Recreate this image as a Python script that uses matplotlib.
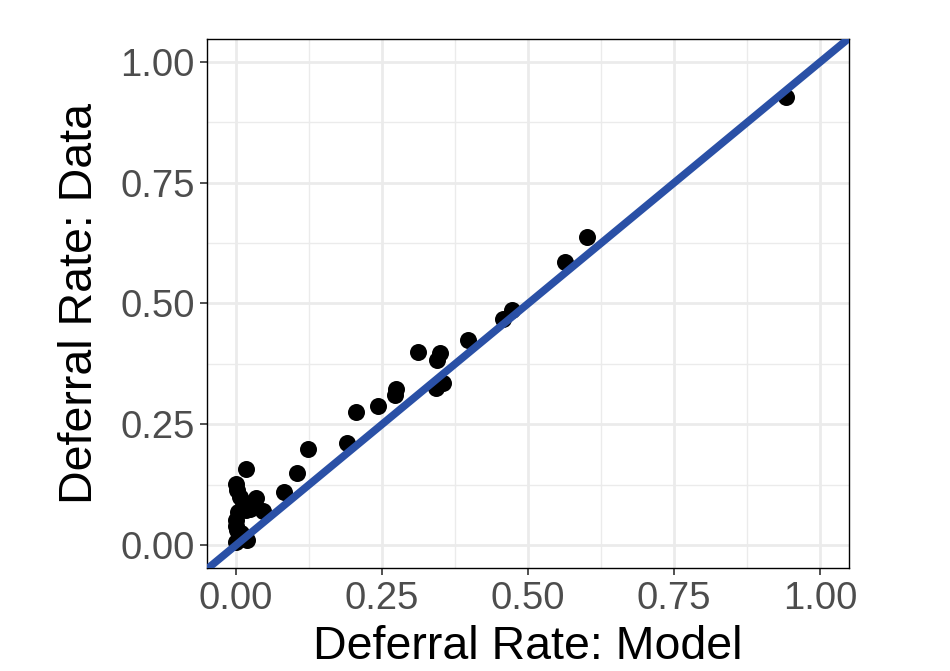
import numpy as np
import matplotlib
matplotlib.use("Agg")
import matplotlib.pyplot as plt
from matplotlib.ticker import MultipleLocator

plt.rcParams['font.family'] = ['Liberation Sans', 'DejaVu Sans']

# deferral rates per group: model prediction vs. observed
model = [0.942, 0.601, 0.563, 0.473, 0.457, 0.397, 0.349, 0.312, 0.344, 0.354,
         0.342, 0.274, 0.272, 0.243, 0.205, 0.190, 0.123, 0.104, 0.082, 0.046,
         0.034, 0.017, 0.000, 0.002, 0.007, 0.012, 0.004, 0.000, 0.017, 0.000,
         0.002, 0.014, 0.019, 0.024, 0.008, 0.000]
data = [0.928, 0.638, 0.586, 0.487, 0.468, 0.424, 0.398, 0.400, 0.383, 0.335,
        0.325, 0.323, 0.311, 0.288, 0.275, 0.211, 0.199, 0.149, 0.110, 0.070,
        0.097, 0.157, 0.126, 0.114, 0.100, 0.090, 0.068, 0.052, 0.072, 0.040,
        0.031, 0.014, 0.010, 0.075, 0.024, 0.006]

ticks = [0.0, 0.25, 0.5, 0.75, 1.0]
tick_labels = ['0.00', '0.25', '0.50', '0.75', '1.00']

fig = plt.figure(figsize=(9.5, 6.71), dpi=100)
ax = fig.add_axes([0.218, 0.1535, 0.676, 0.7885])

ax.scatter(model, data, s=150, color='black', zorder=3, linewidths=0)
ax.axline((0, 0), slope=1, color='#2a50a6', lw=5.5, zorder=4)

ax.set_xlim(-0.0497, 1.0497)
ax.set_ylim(-0.0476, 1.0476)
ax.set_xticks(ticks)
ax.set_xticklabels(tick_labels)
ax.set_yticks(ticks)
ax.set_yticklabels(tick_labels)
ax.xaxis.set_minor_locator(MultipleLocator(0.125))
ax.yaxis.set_minor_locator(MultipleLocator(0.125))
ax.grid(True, which='major', color='#ebebeb', lw=2.0, zorder=0)
ax.grid(True, which='minor', color='#ebebeb', lw=1.0, zorder=0)
ax.set_axisbelow(True)

ax.tick_params(which='major', labelsize=27.5, labelcolor='#4d4d4d', color='#333333',
               length=5, width=1.2, pad=4)
ax.tick_params(which='minor', length=0)
for s in ax.spines.values():
    s.set_color('black')
    s.set_linewidth(1.0)

ax.set_xlabel('Deferral Rate: Model', fontsize=33.5, labelpad=6)
ax.set_ylabel('Deferral Rate: Data', fontsize=33.5, labelpad=13)

fig.savefig('out.png', dpi=100)
